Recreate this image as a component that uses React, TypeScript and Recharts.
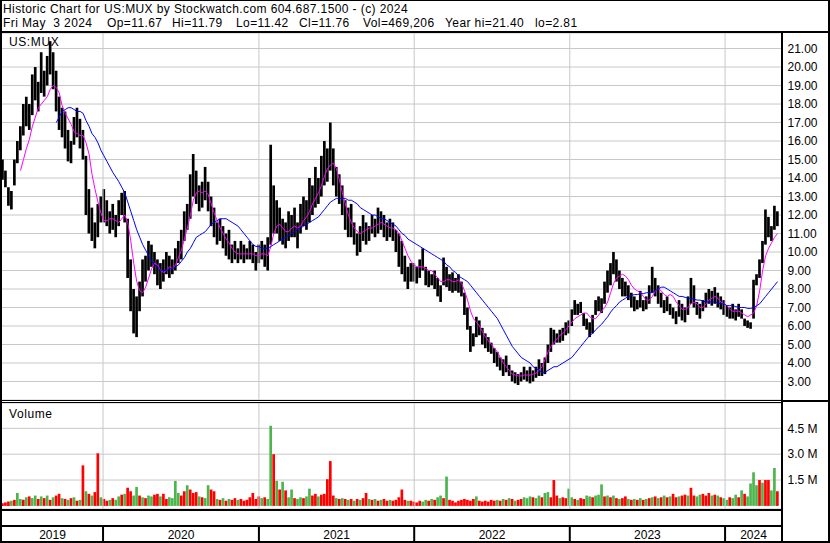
import React from "react";
import {
  ComposedChart, Bar, Line, XAxis, YAxis, CartesianGrid, ReferenceLine, Cell,
} from "recharts";

// weekly bars, week 0 = week ending May 10 2019, last = May 3 2024
const highs = [
  // 2019
  15.0, 14.4, 13.5, 13.3, 15.0, 16.0, 16.8, 18.0, 18.4, 18.0, 19.6, 20.0, 19.2, 20.8, 19.8, 20.6, 21.4, 20.8, 19.8, 18.4, 17.8, 17.6, 16.6, 16.0, 17.3, 17.8, 17.2, 16.6, 15.2, 13.4, 12.4, 11.6, 12.6, 13.0,
  // 2020
  13.4, 12.8, 12.2, 12.6, 12.0, 12.8, 13.2, 13.3, 11.8, 9.6, 8.0, 7.6, 8.4, 9.6, 9.8, 10.6, 10.4, 10.0, 9.6, 9.4, 9.6, 10.0, 9.8, 9.6, 10.2, 10.6, 11.2, 12.2, 12.6, 14.2, 15.3, 14.4, 13.6, 13.8, 14.6, 13.8, 13.0, 12.4, 11.6, 11.8, 11.4, 11.0, 11.2, 10.4, 10.6, 10.2, 10.6, 10.4, 10.2, 10.6, 10.4, 10.0,
  // 2021
  10.4, 10.6, 10.4, 10.8, 15.8, 13.6, 12.8, 12.4, 11.8, 11.6, 12.2, 12.0, 12.4, 11.6, 12.6, 13.0, 12.8, 14.0, 13.6, 14.6, 14.0, 15.2, 16.0, 15.6, 17.0, 15.6, 14.6, 14.2, 13.6, 12.8, 12.4, 12.6, 11.6, 11.0, 11.4, 12.0, 11.6, 11.4, 12.0, 11.8, 12.4, 12.2, 12.0, 11.6, 11.8, 11.6, 11.2, 11.0, 10.6, 9.8, 9.2, 9.4,
  // 2022
  9.4, 9.2, 9.6, 10.2, 9.2, 9.0, 8.8, 9.0, 8.6, 8.2, 9.7, 9.2, 8.8, 8.9, 8.6, 8.8, 8.4, 7.8, 7.0, 6.0, 5.6, 6.5, 6.3, 5.9, 5.6, 5.4, 5.1, 4.8, 4.6, 4.3, 4.2, 4.4, 3.9, 3.6, 3.5, 3.4, 3.5, 3.8, 3.6, 3.8, 3.6, 3.8, 4.2, 4.0, 4.3, 5.0, 5.9, 5.8, 5.6, 5.8, 5.9, 6.2, 6.3,
  // 2023
  6.9, 7.4, 7.2, 7.3, 6.7, 6.4, 6.2, 6.6, 7.4, 7.6, 7.5, 8.4, 9.0, 9.4, 10.0, 9.6, 9.0, 8.6, 8.4, 8.2, 7.8, 7.6, 7.4, 7.9, 7.4, 7.6, 8.2, 9.2, 8.6, 8.2, 7.8, 7.4, 7.6, 7.2, 7.0, 6.8, 7.4, 7.2, 7.0, 7.6, 8.6, 8.2, 7.3, 7.2, 7.4, 7.8, 8.0, 7.9, 8.1, 7.8, 7.6, 7.4,
  // 2024
  7.1, 7.0, 7.2, 6.9, 7.2, 6.9, 6.4, 6.3, 6.2, 8.5, 8.8, 9.6, 10.6, 12.3, 11.9, 11.4, 12.5, 12.2,
];

const lows = [
  13.9, 13.5, 12.5, 12.3, 13.6, 14.8, 15.5, 16.3, 16.8, 16.6, 17.4, 18.2, 17.6, 18.6, 18.4, 19.0, 19.6, 18.8, 17.6, 16.6, 16.2, 15.6, 14.9, 14.8, 15.8, 16.2, 15.6, 15.0, 12.0, 11.0, 10.6, 10.2, 10.8, 11.6,
  11.6, 11.4, 11.0, 11.2, 10.8, 11.4, 12.0, 11.6, 8.6, 6.8, 5.6, 5.4, 6.8, 7.6, 8.4, 9.0, 9.2, 8.8, 8.2, 8.0, 8.4, 8.8, 8.6, 8.8, 9.0, 9.4, 9.6, 10.6, 11.2, 11.8, 13.0, 12.6, 12.2, 12.4, 12.8, 12.2, 11.4, 10.8, 10.4, 10.6, 10.2, 9.8, 9.6, 9.4, 9.6, 9.4, 9.6, 9.4, 9.6, 9.6, 9.4, 9.0,
  9.4, 9.6, 9.2, 9.0, 10.4, 11.0, 11.0, 10.6, 10.4, 10.2, 10.6, 10.8, 10.8, 10.2, 11.0, 11.4, 11.2, 11.6, 12.0, 12.4, 12.6, 13.0, 13.6, 13.8, 14.4, 13.6, 13.0, 12.6, 12.0, 11.2, 10.8, 10.8, 10.4, 9.8, 10.0, 10.6, 10.4, 10.6, 11.0, 10.8, 11.0, 11.2, 10.8, 10.6, 10.8, 10.6, 10.0, 9.2, 8.8, 8.4, 8.0, 8.4,
  8.4, 8.3, 8.6, 9.0, 8.2, 8.1, 8.2, 8.0, 7.6, 7.3, 8.2, 8.1, 7.9, 7.8, 7.9, 7.8, 7.6, 6.6, 5.8, 4.6, 4.9, 5.4, 5.5, 5.0, 4.8, 4.6, 4.5, 4.0, 3.8, 3.6, 3.3, 3.5, 3.3, 3.0, 2.9, 2.81, 3.0, 3.1, 3.0, 2.9, 3.0, 3.2, 3.3, 3.3, 3.4, 4.0, 4.6, 5.0, 5.1, 5.1, 5.2, 5.5, 5.6,
  6.0, 6.6, 6.6, 6.7, 6.0, 5.8, 5.4, 5.6, 6.6, 6.8, 6.7, 7.2, 7.8, 8.2, 8.8, 8.4, 8.0, 7.6, 7.6, 7.4, 7.0, 6.8, 6.9, 7.0, 6.8, 6.9, 7.2, 7.8, 7.6, 7.2, 7.0, 6.7, 6.8, 6.6, 6.4, 6.1, 6.5, 6.3, 6.2, 6.6, 7.2, 7.0, 6.6, 6.4, 6.8, 7.0, 7.2, 7.1, 7.2, 7.0, 6.9, 6.6,
  6.5, 6.4, 6.4, 6.3, 6.5, 6.4, 6.0, 5.9, 5.85, 6.4, 8.2, 8.6, 9.4, 10.4, 10.8, 10.6, 11.2, 11.4,
];

// short moving average (magenta)
const maShort = [
  null, null, null, null, null, null, 14.4, 15.0, 15.6, 16.1, 16.8, 17.3, 17.8, 18.0, 18.2, 18.4, 18.8, 19.0, 18.9, 18.6, 17.9, 17.5, 17.2, 16.9, 16.5, 16.4, 16.3, 16.3, 15.9, 15.3, 14.2, 13.4, 12.7, 12.1,
  11.7, 11.7, 11.8, 11.8, 11.7, 11.6, 11.8, 12.0, 11.6, 10.6, 9.4, 8.4, 7.9, 7.8, 8.1, 8.6, 9.1, 9.4, 9.3, 9.0, 8.9, 9.0, 9.2, 9.1, 9.3, 9.7, 10.1, 10.7, 11.3, 12.0, 12.8, 13.2, 13.3, 13.2, 13.3, 13.1, 12.6, 12.1, 11.7, 11.3, 11.0, 10.7, 10.5, 10.2, 10.0, 9.9, 9.9, 9.9, 9.9, 9.9, 9.9, 9.8,
  9.8, 9.9, 9.9, 9.8, 10.3, 11.0, 11.4, 11.5, 11.3, 11.1, 11.1, 11.3, 11.4, 11.3, 11.4, 11.7, 11.9, 12.2, 12.6, 12.9, 13.2, 13.6, 14.1, 14.5, 14.7, 14.8, 14.5, 13.9, 13.2, 12.6, 12.0, 11.6, 11.3, 11.1, 11.0, 11.1, 11.2, 11.3, 11.3, 11.4, 11.5, 11.6, 11.5, 11.4, 11.3, 11.3, 11.2, 11.0, 10.6, 10.2, 9.8, 9.5,
  9.3, 9.2, 9.2, 9.2, 9.1, 9.0, 9.0, 8.8, 8.6, 8.4, 8.4, 8.5, 8.5, 8.4, 8.4, 8.5, 8.3, 7.9, 7.4, 6.8, 6.4, 6.2, 6.0, 5.7, 5.4, 5.2, 5.0, 4.8, 4.6, 4.3, 4.0, 3.8, 3.6, 3.4, 3.35, 3.3, 3.3, 3.35, 3.35, 3.35, 3.4, 3.45, 3.6, 3.8, 4.2, 4.6, 4.9, 5.1, 5.3, 5.5, 5.6, 5.8, 6.0,
  6.2, 6.4, 6.5, 6.6, 6.7, 6.7, 6.5, 6.4, 6.4, 6.6, 6.8, 7.0, 7.3, 7.8, 8.3, 8.6, 8.7, 8.8, 8.7, 8.5, 8.2, 8.0, 7.9, 7.8, 7.6, 7.4, 7.4, 7.6, 7.9, 8.0, 7.9, 7.7, 7.6, 7.7, 7.6, 7.3, 7.1, 6.9, 6.9, 7.0, 7.2, 7.3, 7.2, 7.0, 7.0, 7.2, 7.4, 7.5, 7.6, 7.5, 7.3, 7.2,
  7.1, 6.9, 6.8, 6.8, 6.8, 6.7, 6.6, 6.5, 6.6, 6.7, 7.1, 7.9, 9.0, 9.8, 10.2, 10.5, 10.8, 11.0,
];

// long moving average (blue)
const maLong = [
  null, null, null, null, null, null, null, null, null, null, null, null, null, null, null, null, null, null, 17.0, 17.3, 17.6, 17.7, 17.8, 17.8, 17.7, 17.6, 17.6, 17.5, 17.1, 16.8, 16.4, 16.2, 15.9, 15.5,
  15.2, 14.9, 14.6, 14.3, 14.05, 13.8, 13.5, 13.2, 12.7, 12.2, 11.7, 11.2, 10.8, 10.4, 10.1, 9.8, 9.5, 9.3, 9.2, 9.0, 9.0, 9.0, 9.1, 9.1, 9.2, 9.3, 9.5, 9.7, 10.0, 10.2, 10.5, 10.8, 10.9, 11.0, 11.1, 11.3, 11.5, 11.6, 11.7, 11.8, 11.8, 11.8, 11.7, 11.6, 11.5, 11.4, 11.2, 11.0, 10.8, 10.6, 10.4, 10.3,
  10.3, 10.2, 10.2, 10.2, 10.3, 10.4, 10.5, 10.6, 10.7, 10.8, 10.9, 11.0, 11.1, 11.2, 11.3, 11.4, 11.5, 11.6, 11.7, 11.8, 11.9, 12.1, 12.3, 12.5, 12.7, 12.8, 12.9, 12.9, 12.9, 12.9, 12.8, 12.8, 12.7, 12.6, 12.4, 12.3, 12.2, 12.1, 12.0, 12.0, 11.9, 11.8, 11.8, 11.7, 11.6, 11.5, 11.4, 11.2, 11.0, 10.9, 10.7, 10.6,
  10.5, 10.4, 10.3, 10.2, 10.1, 10.0, 9.9, 9.8, 9.7, 9.6, 9.5, 9.3, 9.2, 9.0, 8.9, 8.7, 8.6, 8.5, 8.4, 8.2, 8.0, 7.8, 7.6, 7.4, 7.2, 7.0, 6.8, 6.6, 6.4, 6.1, 5.8, 5.5, 5.2, 4.9, 4.7, 4.5, 4.3, 4.2, 4.1, 4.0, 3.8, 3.7, 3.6, 3.5, 3.5, 3.6, 3.7, 3.8, 3.8, 3.9, 4.0, 4.1, 4.2,
  4.3, 4.5, 4.7, 4.9, 5.1, 5.3, 5.5, 5.6, 5.8, 5.95, 6.1, 6.3, 6.5, 6.75, 6.95, 7.1, 7.3, 7.4, 7.5, 7.6, 7.65, 7.7, 7.7, 7.75, 7.75, 7.8, 7.8, 7.8, 7.9, 8.0, 8.1, 8.1, 8.0, 7.9, 7.8, 7.7, 7.6, 7.6, 7.55, 7.5, 7.5, 7.45, 7.4, 7.4, 7.35, 7.3, 7.3, 7.3, 7.3, 7.25, 7.2, 7.2,
  7.1, 7.1, 7.1, 7.05, 7.0, 7.0, 7.0, 6.95, 6.95, 7.0, 7.1, 7.2, 7.4, 7.6, 7.8, 8.0, 8.2, 8.4,
];

// volume in millions
const volume = [
  0.15, 0.2, 0.25, 0.3, 0.35, 0.75, 0.4, 0.35, 0.5, 0.55, 0.45, 0.6, 0.4, 0.55, 0.45, 0.6, 0.35, 0.5, 0.6, 0.7, 0.45, 0.4, 0.35, 0.45, 0.5, 0.3, 0.35, 2.35, 0.85, 0.7, 0.6, 0.8, 3.05, 0.5,
  0.4, 0.3, 0.35, 0.45, 0.35, 0.55, 0.65, 0.7, 1.05, 0.85, 0.6, 1.1, 0.6, 0.5, 0.45, 0.6, 0.55, 0.65, 0.7, 0.55, 0.7, 0.4, 0.5, 0.45, 1.45, 0.75, 0.6, 0.85, 1.2, 0.95, 0.75, 0.8, 0.55, 0.5, 0.45, 1.2, 0.95, 0.85, 0.4, 0.35, 0.45, 0.3, 0.4, 0.35, 0.45, 0.35, 0.4, 0.3, 0.35, 0.5, 0.75, 0.4,
  0.55, 0.45, 0.5, 0.4, 4.65, 3.0, 1.45, 0.95, 1.4, 0.9, 0.5, 0.95, 0.45, 0.4, 0.5, 0.45, 0.55, 1.0, 0.6, 0.7, 0.55, 0.65, 0.7, 1.55, 2.6, 0.6, 0.45, 0.4, 0.45, 0.4, 0.35, 0.4, 0.3, 0.4, 0.35, 0.45, 0.75, 0.4, 0.35, 0.4, 0.3, 0.35, 0.4, 0.3, 0.35, 0.3, 0.35, 0.5, 0.95, 0.35, 0.3, 0.3,
  0.25, 0.2, 0.3, 0.25, 0.35, 0.3, 0.4, 0.35, 0.5, 0.6, 0.45, 1.7, 0.35, 0.3, 0.2, 0.3, 0.35, 0.4, 0.35, 0.3, 0.4, 0.55, 0.3, 0.25, 0.3, 0.25, 0.35, 0.3, 0.35, 0.3, 0.4, 0.35, 0.45, 0.4, 0.3, 0.35, 0.4, 0.5, 0.45, 0.55, 0.5, 0.45, 0.6, 0.5, 0.75, 0.8, 0.5, 1.5, 0.6, 0.45, 0.5, 0.45, 1.0,
  0.5, 0.4, 0.35, 0.45, 0.4, 0.6, 0.55, 0.5, 0.6, 0.65, 1.25, 0.55, 0.6, 0.5, 0.6, 0.45, 0.4, 0.45, 0.55, 0.4, 0.35, 0.4, 0.35, 0.45, 0.35, 0.4, 0.45, 0.5, 0.55, 0.45, 0.5, 0.6, 0.5, 0.55, 0.7, 0.5, 0.55, 0.6, 0.65, 0.6, 1.05, 0.6, 0.55, 0.65, 0.7, 0.6, 0.75, 0.6, 0.65, 0.6, 0.5, 0.45,
  0.35, 0.5, 0.45, 0.65, 0.5, 0.9, 0.7, 0.55, 1.3, 1.95, 1.2, 1.5, 1.35, 1.5, 1.5, 0.9, 2.2, 0.85,
];

// g = up week, r = down week
const volDir = (
  "rrrgrggrgrggrgrgrgrrgrgrgrgrgrgrrg" +
  "rrgrggrgrrggrgrggrrgrrggggrrgrrrgrggrrgrgrgrrgrrrrrr" +
  "rgrggrgrgrggrggrggrrgrrrrrgrgrgrgrgrrgrgrgrrgrrrrrgr" +
  "rrrggrgrggrgrrrrrrrrrgrrrrrrgrgrgrgrrgggrggrggrrrg" + "rrg" +
  "grgrrggrgggrgrgrgrrgrgrgrgrgrgrgrgrrgrrgrrggrrrgrgrg" +
  "grggrgrggggrgrrggr"
).split("");

const yearStarts = [33.7, 86.0, 138.1, 190.3, 242.4];
const yearMids = [16.75, 59.85, 112.05, 164.2, 216.35, 251.95];
const yearLabels = ["2019", "2020", "2021", "2022", "2023", "2024"];
const priceTicks = [3, 4, 5, 6, 7, 8, 9, 10, 11, 12, 13, 14, 15, 16, 17, 18, 19, 20, 21];
const volTicks = [1.5, 3.0, 4.5];

const headerLine1 = "Historic Chart for US:MUX by Stockwatch.com 604.687.1500 - (c) 2024";
// second header line, field text and its left edge
const quoteFields = [
  "Fri May  3 2024", "Op=11.67", "Hi=11.79", "Lo=11.42", "Cl=11.76", "Vol=469,206", "Year hi=21.40", "lo=2.81",
];
const quoteFieldX = [3, 107, 172, 236, 299, 363, 445, 535];

const FONT = "'Liberation Sans', Arial, sans-serif";
const GRID = "#c8c8c8";
const UP = "#4cb54c";
const DOWN = "#ff0000";
const xDomain: [number, number] = [-0.2, 261.5];

const rows = highs.map((h, i) => ({
  w: i,
  range: [lows[i], h],
  ma1: maShort[i],
  ma2: maLong[i],
  vol: volume[i],
  up: volDir[i] === "g",
}));

const boundaryLines = (stroke: string, width = 1) =>
  yearStarts.map((b) => (
    <ReferenceLine key={b} x={b} stroke={stroke} strokeWidth={width} ifOverflow="visible" />
  ));

function hline(top: number, left: number, width: number, height: number) {
  return <div style={{ position: "absolute", top, left, width, height, background: "#000" }} />;
}

function YearTick(props: any) {
  const { x, y, payload } = props;
  const idx = yearMids.indexOf(payload.value);
  if (idx < 0) {
    return <line x1={x} x2={x} y1={y} y2={y + 15} stroke="#000" strokeWidth={2} />;
  }
  return (
    <text x={x} y={y + 13} textAnchor="middle" fontSize={12} fill="#000" fontFamily={FONT}>
      {yearLabels[idx]}
    </text>
  );
}

export default function App() {
  const txt: React.CSSProperties = {
    position: "absolute", fontSize: 12, lineHeight: "14px", whiteSpace: "pre", color: "#000", letterSpacing: 0.4,
  };
  return (
    <div style={{ position: "absolute", left: 0, top: 0, width: 830, height: 543, background: "#fff", fontFamily: FONT, overflow: "hidden" }}>
      <div style={{ ...txt, left: 3, top: 1.5 }}>{headerLine1}</div>
      {quoteFields.map((f, i) => (
        <div key={f} style={{ ...txt, left: quoteFieldX[i], top: 16 }}>{f}</div>
      ))}

      <div style={{ position: "absolute", left: 0, top: 33 }}>
        <ComposedChart width={830} height={367} data={rows} margin={{ top: 0, right: 0, bottom: 0, left: 2 }}>
          <CartesianGrid stroke={GRID} vertical={false} />
          <XAxis dataKey="w" type="number" domain={xDomain} allowDataOverflow hide />
          <YAxis orientation="right" width={48} domain={[2, 21.84]} ticks={priceTicks} interval={0} allowDataOverflow
            axisLine={false} tickLine={false} tickSize={3} tickMargin={2.5}
            tick={{ fontSize: 12, fill: "#000", fontFamily: FONT }} tickFormatter={(v) => Number(v).toFixed(2)} />
          {boundaryLines(GRID)}
          <Bar dataKey="range" fill="#000" barSize={3} isAnimationActive={false} />
          <Line type="linear" dataKey="ma1" stroke="#ff00ff" strokeWidth={1} dot={false} isAnimationActive={false} />
          <Line type="linear" dataKey="ma2" stroke="#0000ff" strokeWidth={1} dot={false} isAnimationActive={false} />
        </ComposedChart>
      </div>
      <div style={{ ...txt, letterSpacing: 0.6, left: 9, top: 35 }}>US:MUX</div>

      <div style={{ position: "absolute", left: 0, top: 403 }}>
        <ComposedChart width={830} height={106} data={rows} margin={{ top: 0, right: 0, bottom: 0, left: 2 }}>
          <CartesianGrid stroke={GRID} vertical={false} />
          <XAxis dataKey="w" type="number" domain={xDomain} allowDataOverflow hide />
          <YAxis orientation="right" width={48} domain={[-0.18, 5.97]} ticks={volTicks} interval={0} allowDataOverflow
            axisLine={false} tickLine={false} tickSize={3} tickMargin={2.5}
            tick={{ fontSize: 12, fill: "#000", fontFamily: FONT }} tickFormatter={(v) => `${Number(v).toFixed(1)} M`} />
          {boundaryLines(GRID)}
          <Bar dataKey="vol" barSize={3} isAnimationActive={false}>
            {rows.map((r) => <Cell key={r.w} fill={r.up ? UP : DOWN} />)}
          </Bar>
        </ComposedChart>
      </div>
      <div style={{ ...txt, letterSpacing: 0.6, left: 9, top: 407 }}>Volume</div>

      <div style={{ position: "absolute", left: 0, top: 511 }}>
        <ComposedChart width={830} height={30} data={rows} margin={{ top: 0, right: 48, bottom: 0, left: 2 }}>
          <XAxis dataKey="w" type="number" domain={xDomain} allowDataOverflow height={15}
            ticks={[...yearStarts, ...yearMids]} interval={0} axisLine={false} tickLine={false}
            tickSize={0} tickMargin={0} tick={<YearTick />} />
          <YAxis hide domain={[0, 1]} />
          {boundaryLines("#000", 2)}
        </ComposedChart>
      </div>

      {/* frame */}
      {hline(0, 0, 830, 1)}
      {hline(0, 0, 2, 543)}
      {hline(0, 828, 2, 543)}
      {hline(31, 0, 830, 2)}
      {hline(32, 781, 2, 511)}
      {hline(400, 0, 782, 1)}
      {hline(402, 0, 782, 1)}
      {hline(400, 782, 48, 2)}
      {hline(509, 0, 782, 2)}
      {hline(525, 0, 782, 2)}
      {hline(541, 0, 830, 2)}
    </div>
  );
}
